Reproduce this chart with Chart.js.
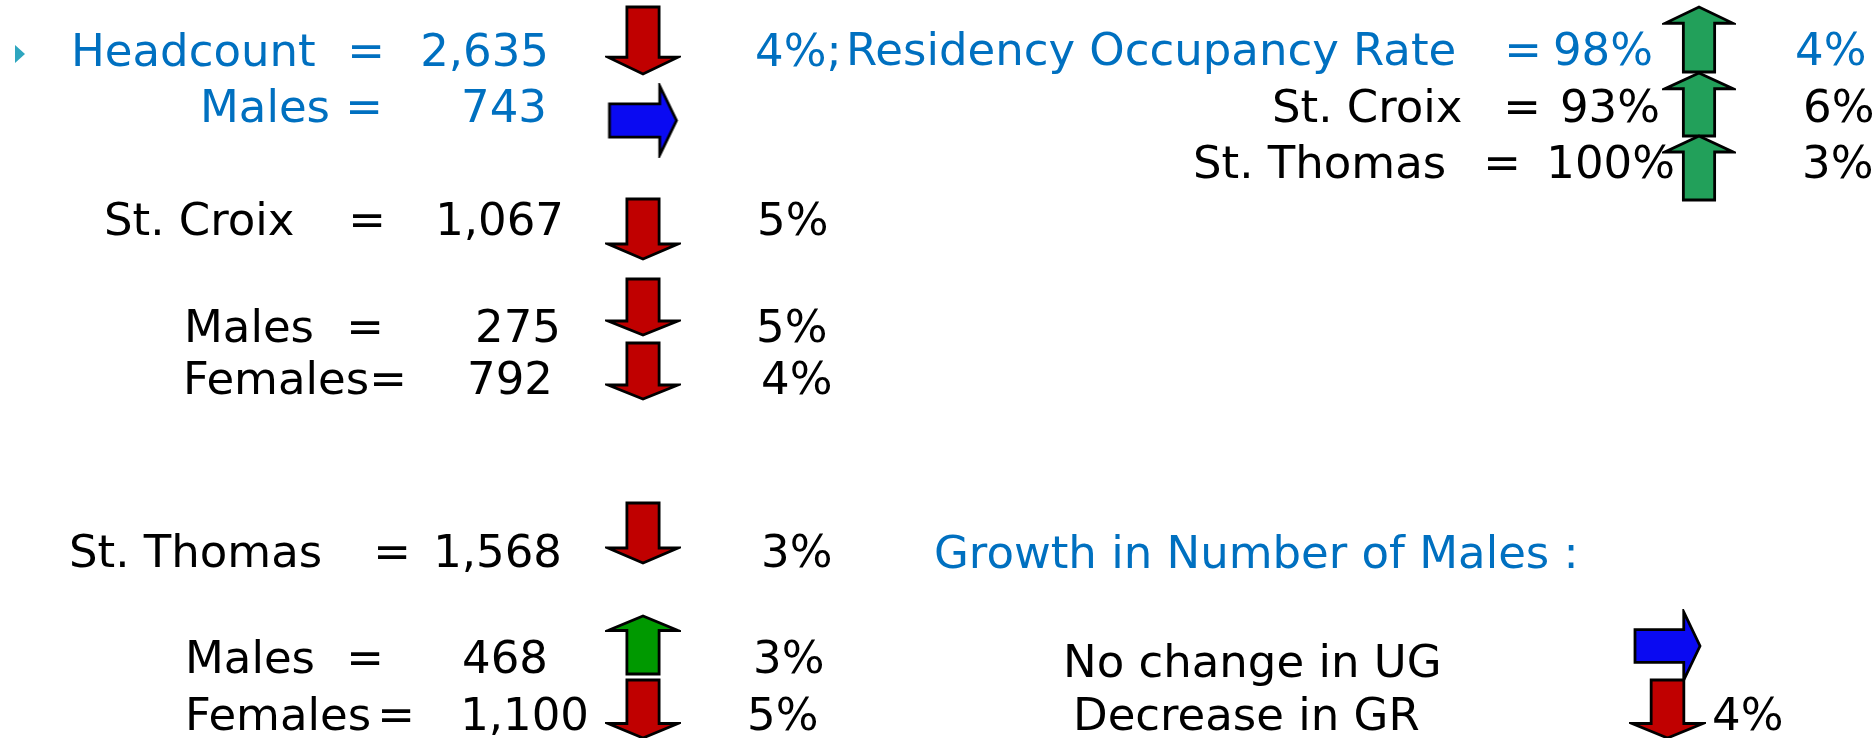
<!DOCTYPE html>
<html>
<head>
<meta charset="utf-8">
<script src="https://cdn.jsdelivr.net/npm/chart.js@4.4.1/dist/chart.umd.min.js"></script>
<style>
  html, body { margin: 0; padding: 0; background: #fff; }
  #wrap { position: relative; width: 1872px; height: 738px; }
</style>
</head>
<body>
<div id="wrap"><canvas id="slide"></canvas></div>
<script>
// enrolment figures
const leftLabels  = ['Headcount', 'Males', 'St. Croix', 'Males', 'Females', 'St. Thomas', 'Males', 'Females'];
const leftValues  = ['2,635', '743', '1,067', '275', '792', '1,568', '468', '1,100'];
const leftChanges = ['4%;', '', '5%', '5%', '4%', '3%', '3%', '5%'];
const leftTrend   = ['down', 'flat', 'down', 'down', 'down', 'down', 'up', 'down'];

// residency occupancy
const occLabels  = ['Residency Occupancy Rate', 'St. Croix', 'St. Thomas'];
const occValues  = ['98%', '93%', '100%'];
const occChanges = ['4%', '6%', '3%'];
const occTrend   = ['up', 'up', 'up'];

// growth in number of males
const growthTitle   = 'Growth in Number of Males :';
const growthLabels  = ['No change in UG', 'Decrease in GR'];
const growthChanges = ['', '4%'];
const growthTrend   = ['flat', 'down'];

// layout (slide coordinates)
const FONT = '45px "DejaVu Sans"';
const BLUE = '#0070C0';
const LEFT_BASE    = [66, 122, 235, 342, 394, 567, 673, 730];
const LEFT_LABEL_X = [71, 200, 104, 184, 183, 69, 185, 185];
const LEFT_EQ_X    = [366, 364, 367, 365, 388, 392, 365, 396];
const LEFT_VALUE_R = [549, 547, 564, 561, 553, 562, 548, 589];
const LEFT_PCT_X   = [755, 0, 757, 756, 761, 761, 753, 747];
const LEFT_ARROW_X = 643;
const LEFT_ARROW_Y = [40.5, 120.5, 229, 307, 371, 533, 645, 709];
const LEFT_ARROW_H = [67, 69, 60, 56, 56, 60, 58, 58];

const OCC_BASE    = [65, 122, 178];
const OCC_LABEL_X = [846, 1272, 1193];
const OCC_EQ_X    = [1523, 1522, 1502];
const OCC_VALUE_R = [1653, 1660, 1675];
const OCC_PCT_X   = [1795, 1803, 1802];
const OCC_ARROW_X = 1699;
const OCC_ARROW_Y = [39.5, 104.5, 168];
const OCC_ARROW_H = [65, 63, 64];

const GROWTH_TITLE = { x: 934, y: 568 };
const GROWTH_BASE    = [677, 730];
const GROWTH_LABEL_X = [1063, 1073];
const GROWTH_PCT_X   = [0, 1712];
const GROWTH_ARROW_X = 1667.5;
const GROWTH_ARROW_Y = [646, 709];
const GROWTH_ARROW_H = [68, 58];

const ARROW_FILL = { down: '#C00000', flat: '#0A0AF2', up: '#009900' };
const OCC_FILL = '#22A05A';

function arrowImage(dir, fill, w, h) {
  const pad = 3;
  const c = document.createElement('canvas');
  c.width = w + pad * 2;
  c.height = h + pad * 2;
  const g = c.getContext('2d');
  g.translate(pad, pad);
  let pts;
  if (dir === 'flat') {
    const s = h * 0.48, hl = w * 0.25;
    pts = [[0, h / 2 - s / 2], [w - hl, h / 2 - s / 2], [w - hl, 0], [w, h / 2],
           [w - hl, h], [w - hl, h / 2 + s / 2], [0, h / 2 + s / 2]];
  } else {
    const s = w * 0.46, hh = h * 0.25;
    pts = [[w / 2 - s / 2, 0], [w / 2 + s / 2, 0], [w / 2 + s / 2, h - hh], [w, h - hh],
           [w / 2, h], [0, h - hh], [w / 2 - s / 2, h - hh]];
    if (dir === 'up') pts = pts.map(([px, py]) => [px, h - py]);
  }
  g.beginPath();
  pts.forEach(([px, py], i) => (i ? g.lineTo(px, py) : g.moveTo(px, py)));
  g.closePath();
  g.fillStyle = fill;
  g.fill();
  g.lineWidth = 2.8;
  g.lineJoin = 'miter';
  g.strokeStyle = '#000';
  g.stroke();
  return c;
}

function bulletImage() {
  const c = document.createElement('canvas');
  c.width = 12; c.height = 20;
  const g = c.getContext('2d');
  g.beginPath();
  g.moveTo(1, 1); g.lineTo(11, 10); g.lineTo(1, 19);
  g.closePath();
  g.fillStyle = '#2EA6BF';
  g.fill();
  return c;
}

const arrowPts = [], arrowStyles = [];
leftTrend.forEach((t, i) => {
  arrowPts.push({ x: LEFT_ARROW_X, y: LEFT_ARROW_Y[i] });
  arrowStyles.push(arrowImage(t, ARROW_FILL[t], t === 'flat' ? 67 : 70, LEFT_ARROW_H[i]));
});
occTrend.forEach((t, i) => {
  arrowPts.push({ x: OCC_ARROW_X, y: OCC_ARROW_Y[i] });
  arrowStyles.push(arrowImage(t, OCC_FILL, 68, OCC_ARROW_H[i]));
});
growthTrend.forEach((t, i) => {
  arrowPts.push({ x: GROWTH_ARROW_X, y: GROWTH_ARROW_Y[i] });
  arrowStyles.push(arrowImage(t, ARROW_FILL[t], t === 'flat' ? 65 : 71, GROWTH_ARROW_H[i]));
});

const slideText = {
  id: 'slideText',
  beforeDatasetsDraw(chart) {
    const { ctx, scales: { x, y } } = chart;
    const put = (text, px, py, align, color) => {
      if (!text) return;
      ctx.fillStyle = color;
      ctx.textAlign = align;
      ctx.fillText(text, x.getPixelForValue(px), y.getPixelForValue(py));
    };
    ctx.save();
    ctx.font = FONT;
    ctx.textBaseline = 'alphabetic';

    leftLabels.forEach((label, i) => {
      const col = i < 2 ? BLUE : '#000';
      put(label, LEFT_LABEL_X[i], LEFT_BASE[i], 'left', col);
      put('=', LEFT_EQ_X[i], LEFT_BASE[i], 'center', col);
      put(leftValues[i], LEFT_VALUE_R[i], LEFT_BASE[i], 'right', col);
      put(leftChanges[i], LEFT_PCT_X[i], LEFT_BASE[i], 'left', col);
    });

    occLabels.forEach((label, i) => {
      const col = i === 0 ? BLUE : '#000';
      put(label, OCC_LABEL_X[i], OCC_BASE[i], 'left', col);
      put('=', OCC_EQ_X[i], OCC_BASE[i], 'center', col);
      put(occValues[i], OCC_VALUE_R[i], OCC_BASE[i], 'right', col);
      put(occChanges[i], OCC_PCT_X[i], OCC_BASE[i], 'left', col);
    });

    put(growthTitle, GROWTH_TITLE.x, GROWTH_TITLE.y, 'left', BLUE);
    growthLabels.forEach((label, i) => {
      put(label, GROWTH_LABEL_X[i], GROWTH_BASE[i], 'left', '#000');
      put(growthChanges[i], GROWTH_PCT_X[i], GROWTH_BASE[i], 'left', '#000');
    });
    ctx.restore();
  }
};

new Chart(document.getElementById('slide'), {
  type: 'scatter',
  data: {
    datasets: [
      { data: arrowPts, pointStyle: arrowStyles, pointRadius: 20, pointHoverRadius: 20 },
      { data: [{ x: 20, y: 54 }], pointStyle: bulletImage(), pointRadius: 10, pointHoverRadius: 10 },
    ],
  },
  options: {
    responsive: true,
    maintainAspectRatio: false,
    animation: false,
    events: [],
    layout: { padding: 0, autoPadding: false },
    plugins: { legend: { display: false }, tooltip: { enabled: false } },
    scales: {
      x: { type: 'linear', min: 0, max: 1872, display: false },
      y: { type: 'linear', min: 0, max: 738, reverse: true, display: false },
    },
  },
  plugins: [slideText],
});
</script>
</body>
</html>
